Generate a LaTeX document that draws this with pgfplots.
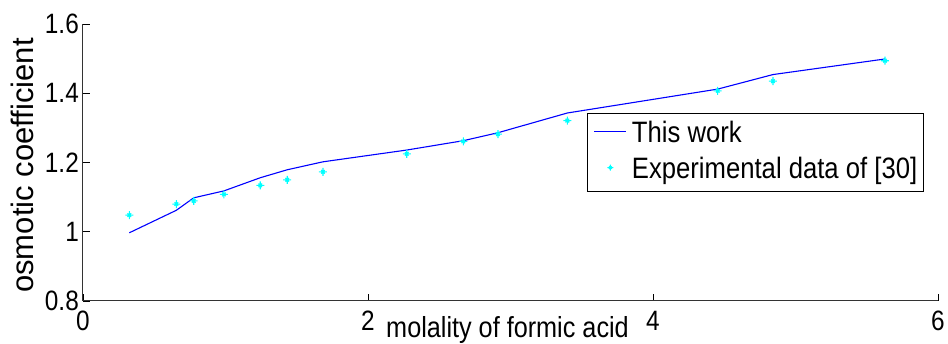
\documentclass[border=0pt]{standalone}
\usepackage{fontspec}
\setmainfont{Liberation Sans}[FakeStretch=0.87]
\newfontfamily\ylfont{Liberation Sans}
\usepackage{pgfplots}
\pgfplotsset{compat=1.18}
\definecolor{mcyan}{RGB}{0,255,255}
\pgfdeclareplotmark{mstar}{%
  \pgfpathmoveto{\pgfqpoint{-\pgfplotmarksize}{0pt}}\pgfpathlineto{\pgfqpoint{\pgfplotmarksize}{0pt}}%
  \pgfpathmoveto{\pgfqpoint{0pt}{-\pgfplotmarksize}}\pgfpathlineto{\pgfqpoint{0pt}{\pgfplotmarksize}}%
  \pgfpathmoveto{\pgfqpoint{-.45\pgfplotmarksize}{-.45\pgfplotmarksize}}\pgfpathlineto{\pgfqpoint{.45\pgfplotmarksize}{.45\pgfplotmarksize}}%
  \pgfpathmoveto{\pgfqpoint{-.45\pgfplotmarksize}{.45\pgfplotmarksize}}\pgfpathlineto{\pgfqpoint{.45\pgfplotmarksize}{-.45\pgfplotmarksize}}%
  \pgfusepathqstroke}
\pgfplotsset{
  mylineleg/.style={legend image code/.code={\draw[##1, blue, line width=1.1pt, yshift=3pt] (0pt,0pt) -- (32pt,0pt);}},
  mymarkleg/.style={legend image code/.code={\draw[mark repeat=2,mark phase=2,mark size=3pt,##1, mcyan, yshift=3pt] plot coordinates {(0pt,0pt) (16pt,0pt) (32pt,0pt)};}},
}
\begin{document}
\begin{tikzpicture}
\useasboundingbox (0,0) rectangle (948pt,343pt);
\begin{axis}[
  at={(83pt,42pt)}, anchor=south west,
  scale only axis, width=855pt, height=277pt,
  xmin=0, xmax=6, ymin=0.8, ymax=1.6,
  xtick={0,2,4,6}, ytick={0.8,1.0,1.2,1.4,1.6},
  axis x line=bottom, axis y line=left,
  axis line style={-, line width=1pt, black!80},
  tick align=inside, major tick length=7pt,
  tick style={line width=0.8pt, black},
  /pgf/number format/assume math mode=true,
  ticklabel style={font=\fontsize{28}{30}\selectfont},
  xticklabel style={anchor=north, inner sep=0pt, yshift=-10pt},
  yticklabel style={anchor=east, inner sep=0pt, xshift=-4pt},
  xlabel={molality of formic acid},
  xlabel style={at={(axis description cs:0.4965,0)}, anchor=base, yshift=-36pt, inner sep=0pt, font=\fontsize{29}{31}\selectfont},
  ylabel={osmotic coefficient},
  ylabel style={at={(axis description cs:-0.0579,0.489)}, anchor=base, inner sep=0pt, font=\ylfont\fontsize{31}{33}\selectfont},
  legend cell align=left,
  legend style={at={(0.590,0.678)}, anchor=north west, draw=black, line width=0.8pt,
    font=\fontsize{29.5}{31}\selectfont, inner xsep=6pt, inner ysep=7pt,
    nodes={inner sep=0pt, text height=22pt, text depth=6pt},
    row sep=8pt, column sep=5pt},
]
\addplot[blue, line width=1.1pt, mylineleg]
coordinates {
(0.325,0.997) (0.655,1.062) (0.777,1.098) (0.989,1.118) (1.244,1.156)
(1.433,1.179) (1.684,1.202) (2.272,1.236) (2.669,1.263) (2.912,1.286)
(3.399,1.343) (4.454,1.412) (4.842,1.454) (5.628,1.499)
};
\addlegendentry{This work}
\addplot[only marks, mcyan, mark=mstar, mark size=4pt, line width=1.1pt, mymarkleg]
coordinates {
(0.325,1.048) (0.655,1.080) (0.777,1.089) (0.989,1.108) (1.244,1.134)
(1.433,1.150) (1.684,1.173) (2.272,1.225) (2.669,1.261) (2.912,1.282)
(3.399,1.321) (4.454,1.407) (4.842,1.435) (5.628,1.494)
};
\addlegendentry{Experimental data of [30]}
\end{axis}
\end{tikzpicture}
\end{document}
